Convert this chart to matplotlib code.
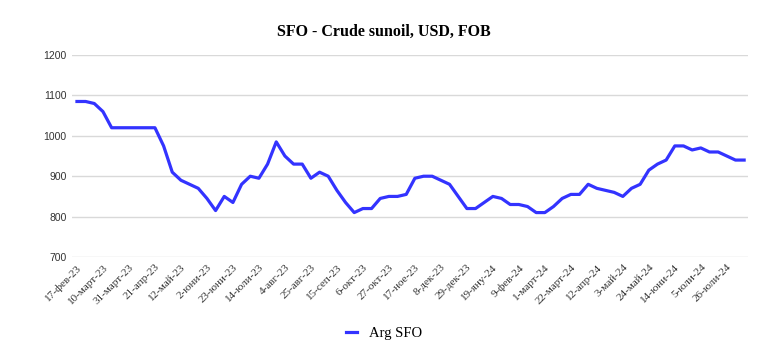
import matplotlib.pyplot as plt

# Données hebdomadaires (USD/t), du 17-фев-23 au 2-авг-24
prix_sfo = [1085, 1085, 1080, 1060, 1020, 1020, 1020, 1020, 1020, 1020,
            975, 910, 890, 880, 870, 845, 815, 850, 835, 880,
            900, 895, 930, 985, 950, 930, 930, 895, 910, 900,
            865, 835, 810, 820, 820, 845, 850, 850, 855, 895,
            900, 900, 890, 880, 850, 820, 820, 835, 850, 845,
            830, 830, 825, 810, 810, 825, 845, 855, 855, 880,
            870, 865, 860, 850, 870, 880, 915, 930, 940, 975,
            975, 965, 970, 960, 960, 950, 940, 940]

etiquettes = ['17-фев-23', '10-март-23', '31-март-23', '21-апр-23', '12-май-23',
              '2-юни-23', '23-юни-23', '14-юли-23', '4-авг-23', '25-авг-23',
              '15-сеп-23', '6-окт-23', '27-окт-23', '17-ное-23', '8-дек-23',
              '29-дек-23', '19-яну-24', '9-фев-24', '1-март-24', '22-март-24',
              '12-апр-24', '3-май-24', '24-май-24', '14-юни-24', '5-юли-24',
              '26-юли-24']

yticks = [700, 800, 900, 1000, 1100, 1200]

x = list(range(len(prix_sfo)))
pos_etiquettes = list(range(0, 3 * len(etiquettes), 3))

fig = plt.figure(figsize=(7.68, 3.62), dpi=100)
ax = fig.add_axes([0.094, 0.29, 0.88, 0.558])

ax.plot(x, prix_sfo, color='#3333ff', linewidth=2.3, label='Arg SFO',
        solid_joinstyle='round')

ax.set_ylim(700, 1200)
ax.set_xlim(-0.55, 77.45)
ax.set_yticks(yticks)
ax.set_yticklabels([str(v) for v in yticks], fontsize=7.5, color='#333333',
                   family='Liberation Sans')
ax.set_xticks(pos_etiquettes)
ax.set_xticklabels(etiquettes, rotation=45, ha='right', rotation_mode='anchor',
                   fontsize=8, color='#333333', family='Liberation Serif')
ax.tick_params(length=0, pad=4)
ax.grid(axis='y', color='#d9d9d9', linewidth=1)
ax.set_axisbelow(True)
for s in ax.spines.values():
    s.set_visible(False)

fig.suptitle('SFO - Crude sunoil, USD, FOB', y=0.935, fontsize=11.5,
             fontweight='bold', family='Liberation Serif')

fig.legend(loc='center', bbox_to_anchor=(0.5, 0.078), frameon=False,
           handlelength=0.8, prop={'family': 'Liberation Serif', 'size': 10.5})

fig.savefig('out.png', dpi=100)
